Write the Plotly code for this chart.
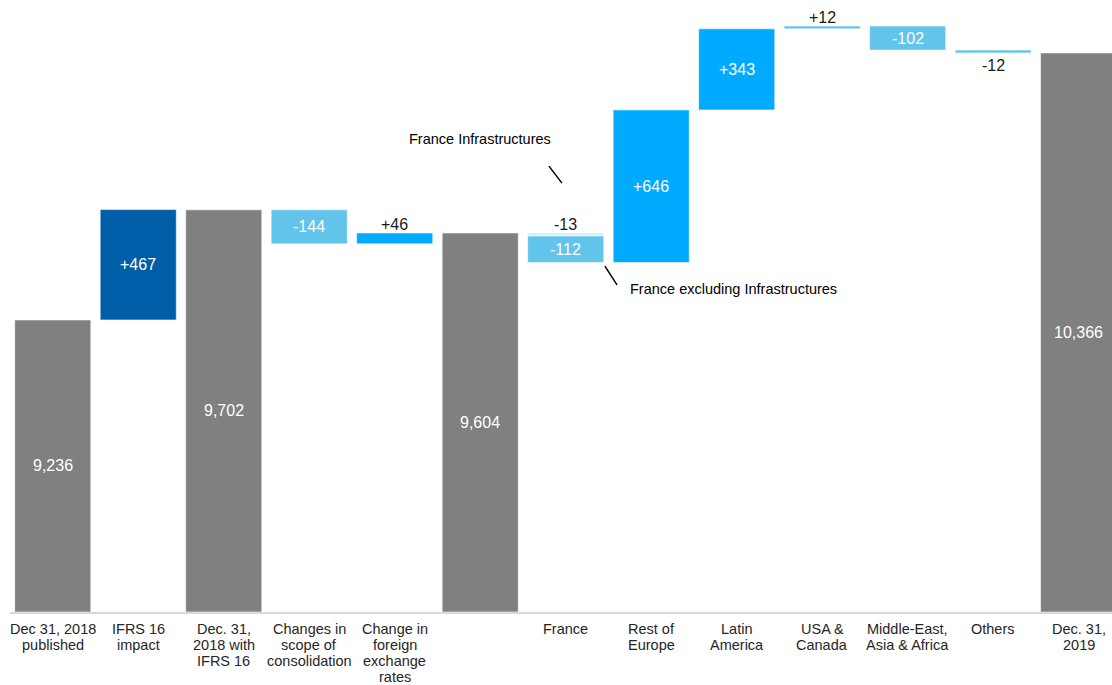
import plotly.graph_objects as go

# Axis categories (x positions 0..12), one entry per column, lines split by <br>
tick_labels = [
    "Dec 31, 2018<br>published",
    "IFRS 16<br>impact",
    "Dec. 31,<br>2018 with<br>IFRS 16",
    "Changes in<br>scope of<br>consolidation",
    "Change in<br>foreign<br>exchange<br>rates",
    "",
    "France",
    "Rest of<br>Europe",
    "Latin<br>America",
    "USA &<br>Canada",
    "Middle-East,<br>Asia & Africa",
    "Others",
    "Dec. 31,<br>2019",
]

# Subtotal columns
total_x = [0, 2, 5, 12]
totals = [9236, 9702, 9604, 10366]

# Variation steps (France split into Infrastructures and the rest)
delta_x = [1, 3, 4, 6, 6, 7, 8, 9, 10, 11]
deltas = [467, -144, 46, -13, -112, 646, 343, 12, -102, -12]
delta_colors = ["#005EA8", "#62C3EB", "#00AAFF", "#D3EEF9", "#62C3EB",
                "#00AAFF", "#00AAFF", "#62C3EB", "#62C3EB", "#62C3EB"]
delta_label_pos = ["inside", "inside", "above", "above", "inside",
                   "inside", "inside", "above", "inside", "below"]

AXIS_FLOOR = 8000
GRAY = "#808080"
FONT = "Liberation Sans, Arial, sans-serif"

# Walk through the columns to get base/height of each bar
events = sorted([(x, "t", i) for i, x in enumerate(total_x)] +
                [(x, "d", i) for i, x in enumerate(delta_x)],
                key=lambda e: (e[0], e[1] == "d" and 0 or -1))
bar_x, bar_base, bar_len, bar_col, labels = [], [], [], [], []
level = None
for x, kind, i in events:
    if kind == "t":
        v = totals[i]
        bar_x.append(x); bar_base.append(AXIS_FLOOR); bar_len.append(v - AXIS_FLOOR)
        bar_col.append(GRAY)
        labels.append((x, (AXIS_FLOOR + v) / 2, f"{v:,}", "inside"))
        level = v
    else:
        d = deltas[i]
        lo, hi = min(level, level + d), max(level, level + d)
        bar_x.append(x); bar_base.append(lo); bar_len.append(hi - lo)
        bar_col.append(delta_colors[i])
        pos = delta_label_pos[i]
        txt = f"{d:+d}"
        if pos == "inside":
            labels.append((x, (lo + hi) / 2, txt, "inside"))
        elif pos == "above":
            labels.append((x, hi, txt, "above"))
        else:
            labels.append((x, lo, txt, "below"))
        level = level + d

fig = go.Figure()
fig.add_trace(go.Bar(
    x=bar_x, y=bar_len, base=bar_base, width=0.89,
    marker=dict(color=bar_col, line=dict(color="rgba(255,255,255,0.55)", width=1)),
    hoverinfo="skip", showlegend=False,
))

for x, y, txt, pos in labels:
    if pos == "inside":
        fig.add_annotation(x=x, y=y, text=txt, showarrow=False,
                           font=dict(family=FONT, size=16, color="white"))
    elif pos == "above":
        fig.add_annotation(x=x, y=y, text=txt, showarrow=False, yanchor="bottom",
                           yshift=-2, font=dict(family=FONT, size=16, color="#1a1a1a"))
    else:
        fig.add_annotation(x=x, y=y, text=txt, showarrow=False, yanchor="top",
                           yshift=-2, font=dict(family=FONT, size=16, color="#1a1a1a"))

# Category labels under the axis, set line by line for a tight line height
LINE_H = 16
for i, lab in enumerate(tick_labels):
    for k, line in enumerate(lab.split("<br>")):
        if not line:
            continue
        fig.add_annotation(x=i, xref="x", y=0, yref="paper", text=line,
                           showarrow=False, yanchor="middle",
                           yshift=-(17 + LINE_H * k),
                           font=dict(family=FONT, size=14.5, color="#262626"))

# Callouts for the two France components
fr = 6
fig.add_annotation(x=fr - 1.0, y=10002, text="France Infrastructures", showarrow=False,
                   font=dict(family=FONT, size=14.5, color="black"))
fig.add_shape(type="line", x0=fr - 0.196, y0=9887, x1=fr - 0.044, y1=9815,
              line=dict(color="black", width=1.5))
fig.add_shape(type="line", x0=fr + 0.459, y0=9464, x1=fr + 0.60, y1=9384,
              line=dict(color="black", width=1.5))
fig.add_annotation(x=fr + 0.728, y=9367, text="France excluding Infrastructures",
                   showarrow=False, xanchor="left",
                   font=dict(family=FONT, size=14.5, color="black"))

fig.update_layout(
    width=1112, height=685,
    margin=dict(l=10, r=0, t=0, b=73),
    paper_bgcolor="white", plot_bgcolor="white",
    barmode="overlay",
    font=dict(family=FONT),
    xaxis=dict(
        range=[-0.5, 12.39], showticklabels=False,
        showgrid=False, zeroline=False, showline=True,
        linecolor="#d9d9d9", linewidth=2, ticks="",
        automargin=False, fixedrange=True,
    ),
    yaxis=dict(range=[AXIS_FLOOR, 10590], visible=False, fixedrange=True,
               automargin=False),
)

fig.write_html("out.html")
